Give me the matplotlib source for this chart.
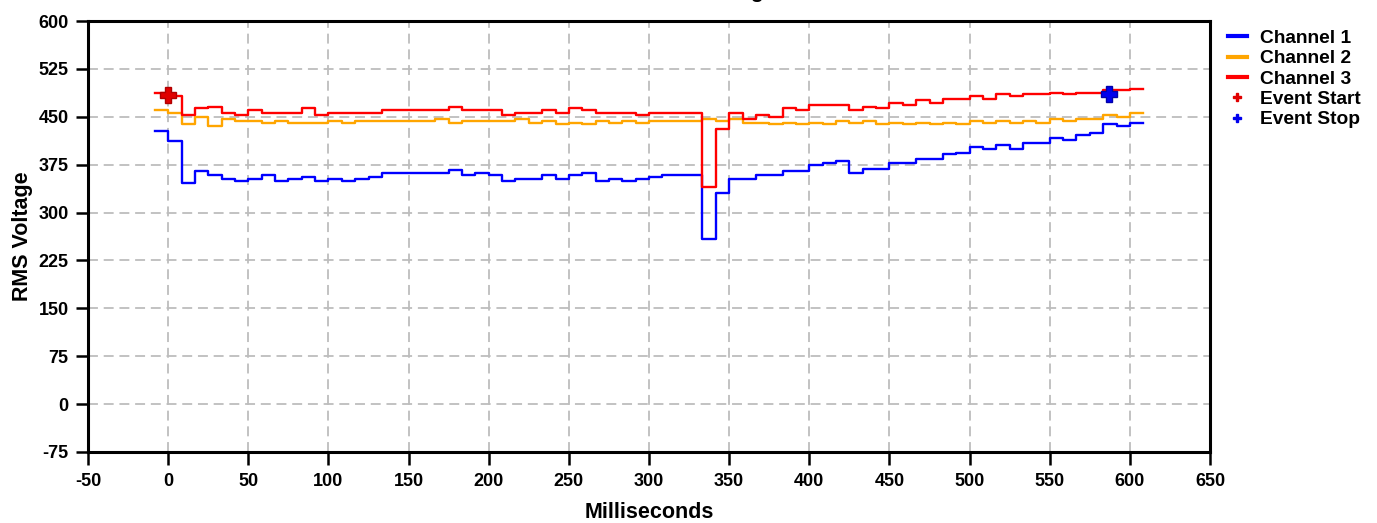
import matplotlib
matplotlib.use("Agg")
import matplotlib.pyplot as plt
from matplotlib.lines import Line2D
import numpy as np

# ── data: one RMS value per half cycle (8.33 ms), starting at -8.33 ms ──
half_cycle_ms = 1000.0 / 120.0
first_ms = -half_cycle_ms

channel_1 = [428, 412, 346, 365, 359, 352, 349, 352, 359, 349,
             352, 356, 349, 352, 349, 352, 356, 362, 362, 362,
             362, 362, 366, 359, 362, 359, 349, 352, 352, 359,
             352, 359, 362, 349, 352, 349, 352, 356, 359, 359,
             359, 259, 331, 352, 352, 359, 359, 365, 365, 375,
             378, 381, 362, 368, 368, 378, 378, 384, 384, 391,
             394, 403, 400, 406, 400, 409, 409, 416, 413, 422,
             425, 438, 435, 441]
channel_2 = [460, 456, 438, 450, 435, 447, 444, 444, 441, 444,
             441, 441, 441, 444, 441, 444, 444, 444, 444, 444,
             444, 447, 441, 444, 444, 444, 444, 447, 441, 444,
             438, 441, 438, 444, 441, 444, 441, 444, 444, 444,
             444, 447, 444, 447, 441, 441, 438, 441, 438, 441,
             438, 444, 441, 444, 438, 441, 438, 441, 438, 441,
             438, 444, 441, 444, 441, 444, 441, 447, 444, 447,
             447, 453, 450, 456]
channel_3 = [487, 482, 453, 463, 466, 456, 453, 460, 456, 456,
             456, 463, 453, 456, 456, 456, 456, 460, 460, 460,
             460, 460, 466, 460, 460, 460, 453, 456, 456, 460,
             456, 463, 460, 456, 456, 456, 453, 456, 456, 456,
             456, 340, 431, 456, 447, 453, 450, 463, 460, 469,
             469, 469, 460, 466, 463, 472, 469, 476, 472, 478,
             478, 482, 478, 485, 482, 485, 485, 488, 485, 488,
             488, 492, 492, 494]

event_start_ms = [0]
event_start_v = [484]
event_stop_ms = [587]
event_stop_v = [485]

x_ticks = list(range(-50, 651, 50))
y_ticks = list(range(-75, 601, 75))

# ── figure ──
plt.rcParams["font.family"] = ["Liberation Sans", "DejaVu Sans"]
plt.rcParams["font.weight"] = "bold"
plt.rcParams["axes.unicode_minus"] = False

fig = plt.figure(figsize=(13.77, 5.23), dpi=100)
ax = fig.add_axes([88 / 1377, 1 - 452 / 523, (1210 - 88) / 1377, (452 - 21) / 523])

colors = {"Channel 1": "#0000ff", "Channel 2": "#ffa500", "Channel 3": "#ff0000"}
series = [("Channel 1", channel_1), ("Channel 2", channel_2), ("Channel 3", channel_3)]

for name, vals in series:
    n = len(vals)
    t = first_ms + half_cycle_ms * np.arange(n + 1)
    v = list(vals) + [vals[-1]]
    ax.plot(t, v, drawstyle="steps-post", color=colors[name], lw=1.7, label=name, zorder=3)

ax.plot(event_start_ms, event_start_v, ls="none", marker="P", ms=11,
        color="#e00000", mec="#b00000", zorder=4)
ax.plot(event_stop_ms, event_stop_v, ls="none", marker="P", ms=11,
        color="#0000ee", mec="#0000aa", zorder=4)

ax.set_xlim(-50, 650)
ax.set_ylim(-75, 600)
ax.set_xticks(x_ticks)
ax.set_yticks(y_ticks)
ax.tick_params(axis="both", direction="out", length=9, width=1.8, labelsize=13,
               top=False, right=False)
ax.tick_params(axis="x", pad=6)
ax.tick_params(axis="y", pad=5)
for lab in ax.get_xticklabels() + ax.get_yticklabels():
    lab.set_fontweight("bold")

for s in ax.spines.values():
    s.set_linewidth(2.2)
    s.set_color("black")

ax.grid(True, color="#bdbdbd", ls=(0, (5.5, 3.2)), lw=1.3, zorder=0)

ax.set_xlabel("Milliseconds", fontsize=15.5, fontweight="bold", labelpad=9)
ax.set_ylabel("RMS Voltage", fontsize=15.5, fontweight="bold", labelpad=4)

# title is almost entirely cut off at the top of the image
fig.text(775 / 1377, 1.004, "RMS Voltage", ha="right", va="baseline",
         fontsize=15, fontweight="bold")

handles = [Line2D([], [], color=colors[n], lw=3) for n, _ in series]
handles += [Line2D([], [], ls="none", marker="P", ms=5.5, color="#e00000"),
            Line2D([], [], ls="none", marker="P", ms=5.5, color="#0000ee")]
labels = ["Channel 1", "Channel 2", "Channel 3", "Event Start", "Event Stop"]
fig.legend(handles, labels, loc="upper left", bbox_to_anchor=(1220 / 1377, 1 - 22 / 523),
           frameon=False, handlelength=1.0, handletextpad=0.7,
           labelspacing=0.15, borderaxespad=0, prop={"weight": "bold", "size": 13.8})

fig.savefig("out.png", dpi=100)
